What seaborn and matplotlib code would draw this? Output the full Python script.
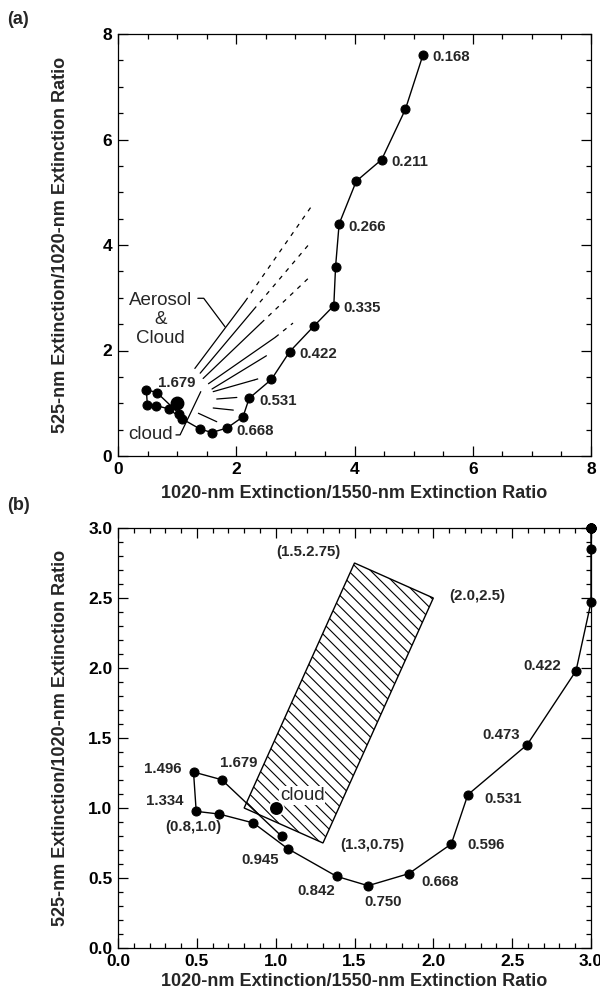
import matplotlib
matplotlib.use("Agg")
import matplotlib.pyplot as plt
from matplotlib.ticker import MultipleLocator, FormatStrFormatter
import numpy as np
import pandas as pd
import seaborn as sns

# Size-distribution curve, ordered by mode radius (um); "" = unlabelled step
radius_labels = ["0.168", "", "0.211", "", "0.266", "", "0.335", "", "0.422", "0.473",
                 "0.531", "0.596", "0.668", "0.750", "0.842", "0.945", "", "", "1.334",
                 "1.496", "1.679", ""]
ratio_1020_1550 = [5.16, 4.86, 4.46, 4.03, 3.74, 3.68, 3.65, 3.32, 2.905, 2.595,
                   2.219, 2.114, 1.844, 1.586, 1.386, 1.076, 0.859, 0.641, 0.496,
                   0.479, 0.658, 1.038]
ratio_525_1020 = [7.61, 6.57, 5.62, 5.21, 4.40, 3.59, 2.85, 2.47, 1.98, 1.452,
                  1.095, 0.743, 0.531, 0.445, 0.512, 0.710, 0.893, 0.957, 0.976,
                  1.257, 1.202, 0.798]

labels_a = ["0.168", "0.211", "0.266", "0.335", "0.422", "0.531", "0.668", "1.679"]
labels_b = ["0.422", "0.473", "0.531", "0.596", "0.668", "0.750", "0.842", "0.945",
            "1.334", "1.496", "1.679"]

cloud_x = [1.0]
cloud_y = [1.0]

# Aerosol & cloud mixing lines: start, end of solid part, end of dashed part
mix_x0 = [1.30, 1.39, 1.44, 1.53, 1.59, 1.61, 1.67, 1.61, 1.36]
mix_y0 = [1.66, 1.57, 1.47, 1.37, 1.27, 1.22, 1.08, 0.91, 0.81]
mix_x1 = [2.15, 2.29, 2.42, 2.66, 2.51, 2.30, 2.01, 1.95, 1.67]
mix_y1 = [2.93, 2.77, 2.52, 2.25, 1.90, 1.44, 1.11, 0.87, 0.65]
mix_x2 = [3.27, 3.25, 3.22, 2.96, 2.51, 2.45, 2.01, 1.95, 1.67]
mix_y2 = [4.73, 4.04, 3.37, 2.52, 1.90, 1.49, 1.11, 0.87, 0.65]

# Cloud region in panel (b)
box_x = [0.8, 1.3, 2.0, 1.5]
box_y = [1.0, 0.75, 2.5, 2.75]
box_labels = ["(0.8,1.0)", "(1.3,0.75)", "(2.0,2.5)", "(1.5.2.75)"]

sns.set_style("ticks")
plt.rcParams["font.family"] = ["Liberation Sans", "DejaVu Sans"]
plt.rcParams["hatch.linewidth"] = 0.8

W, H = 600, 994
fig = plt.figure(figsize=(W / 100, H / 100), dpi=100)


def px_axes(left, top, right, bottom):
    return fig.add_axes([left / W, 1 - bottom / H, (right - left) / W, (bottom - top) / H])


ax_a = px_axes(118, 34, 591, 456)
ax_b = px_axes(118, 528, 591, 948)

XLABEL = "1020-nm Extinction/1550-nm Extinction Ratio"
YLABEL = "525-nm Extinction/1020-nm Extinction Ratio"
num_font = dict(fontsize=10.8, fontweight="bold")
note_font = dict(fontsize=13.5, fontweight="normal")


def style_axes(ax, lim, major, minor, fmt, xpad):
    ax.set_xlim(0, lim)
    ax.set_ylim(0, lim)
    ax.xaxis.set_major_locator(MultipleLocator(major))
    ax.yaxis.set_major_locator(MultipleLocator(major))
    ax.xaxis.set_minor_locator(MultipleLocator(minor))
    ax.yaxis.set_minor_locator(MultipleLocator(minor))
    ax.xaxis.set_major_formatter(FormatStrFormatter(fmt))
    ax.yaxis.set_major_formatter(FormatStrFormatter(fmt))
    ax.tick_params(which="both", direction="in", top=True, right=True,
                   width=0.9, colors="black")
    ax.tick_params(which="major", length=7, pad=4, labelsize=12.5)
    ax.tick_params(which="minor", length=3.5)
    for t in ax.get_xticklabels() + ax.get_yticklabels():
        t.set_fontweight("bold")
    for s in ax.spines.values():
        s.set_linewidth(0.9)
        s.set_color("black")
    ax.set_xlabel(XLABEL, fontsize=13, fontweight="bold", labelpad=xpad)
    ax.set_ylabel(YLABEL, fontsize=13, fontweight="bold")
    ax.yaxis.set_label_coords(-0.103, 0.5)


curve = pd.DataFrame({"x": ratio_1020_1550, "y": ratio_525_1020, "r": radius_labels})

# ---------------- panel (a) ----------------
sns.lineplot(data=curve, x="x", y="y", sort=False, estimator=None, ax=ax_a,
             color="black", lw=1.0, marker="o", markersize=6.5,
             markeredgecolor="black", markerfacecolor="black")
ax_a.plot(cloud_x, cloud_y, "o", color="black", markersize=9)

for r in labels_a:
    row = curve[curve.r == r].iloc[0]
    off = (0.5, 7) if r == "1.679" else (7, -2)
    ax_a.annotate(r, (row.x, row.y), xytext=off, textcoords="offset points",
                  ha="left", va="center", **num_font)

for i in range(len(mix_x0)):
    ax_a.plot([mix_x0[i], mix_x1[i]], [mix_y0[i], mix_y1[i]], color="black", lw=0.9)
    if (mix_x2[i], mix_y2[i]) != (mix_x1[i], mix_y1[i]):
        ax_a.plot([mix_x1[i], mix_x2[i]], [mix_y1[i], mix_y2[i]], color="black",
                  lw=0.9, dashes=(3.5, 4.5))

ax_a.text(0.72, 2.58, "Aerosol\n&\nCloud", ha="center", va="center",
          linespacing=1.15, **note_font)
ax_a.plot([1.35, 1.45, 1.81], [2.99, 2.99, 2.45], color="black", lw=0.9)
ax_a.text(0.92, 0.40, "cloud", ha="right", va="center", **note_font)
ax_a.plot([0.98, 1.05, 1.40], [0.40, 0.40, 1.22], color="black", lw=0.9)

style_axes(ax_a, 8, 2, 0.5, "%d", 6)

# ---------------- panel (b) ----------------
ax_b.fill(box_x, box_y, facecolor="none", edgecolor="black", lw=1.0,
          hatch="\\\\\\")

curve_b = curve.assign(x=np.clip(curve.x, 0, 3), y=np.clip(curve.y, 0, 3))
sns.lineplot(data=curve_b, x="x", y="y", sort=False, estimator=None, ax=ax_b,
             color="black", lw=1.0, marker="o", markersize=6.5,
             markeredgecolor="black", markerfacecolor="black", clip_on=False)
ax_b.plot(cloud_x, cloud_y, "o", color="black", markersize=10.5,
          markeredgecolor="white", markeredgewidth=1.2, zorder=4)
ax_b.annotate("cloud", (cloud_x[0], cloud_y[0]), xytext=(3, 9),
              textcoords="offset points", ha="left", va="center",
              bbox=dict(facecolor="white", edgecolor="none", pad=0.5), **note_font)

offsets_b = {
    "0.422": (-10.8, 3.8, "right"),
    "0.473": (-5.5, 7.2, "right"),
    "0.531": (12, -3, "left"),
    "0.596": (11.5, -0.4, "left"),
    "0.668": (9, -6.3, "left"),
    "0.750": (10.8, -12, "center"),
    "0.842": (-14.4, -10.3, "center"),
    "0.945": (-20, -8, "center"),
    "1.334": (-9, 7.2, "right"),
    "1.496": (-8.4, 2.4, "right"),
    "1.679": (-1.5, 12, "left"),
}
for r in labels_b:
    row = curve[curve.r == r].iloc[0]
    dx, dy, ha = offsets_b[r]
    ax_b.annotate(r, (row.x, row.y), xytext=(dx, dy), textcoords="offset points",
                  ha=ha, va="center", **num_font)

box_offsets = [(-16.3, -13.9, "right"), (12.7, -1.7, "left"),
               (11.5, 1.7, "left"), (-10, 8.2, "right")]
for bx, by, lab, (dx, dy, ha) in zip(box_x, box_y, box_labels, box_offsets):
    ax_b.annotate(lab, (bx, by), xytext=(dx, dy), textcoords="offset points",
                  ha=ha, va="center", **num_font)

style_axes(ax_b, 3, 0.5, 0.1, "%.1f", 3)

fig.text(18 / W, 1 - 19 / H, "(a)", fontsize=13, fontweight="bold", ha="center", va="center")
fig.text(18 / W, 1 - 506 / H, "(b)", fontsize=13, fontweight="bold", ha="center", va="center")

fig.savefig("out.png", dpi=100)
